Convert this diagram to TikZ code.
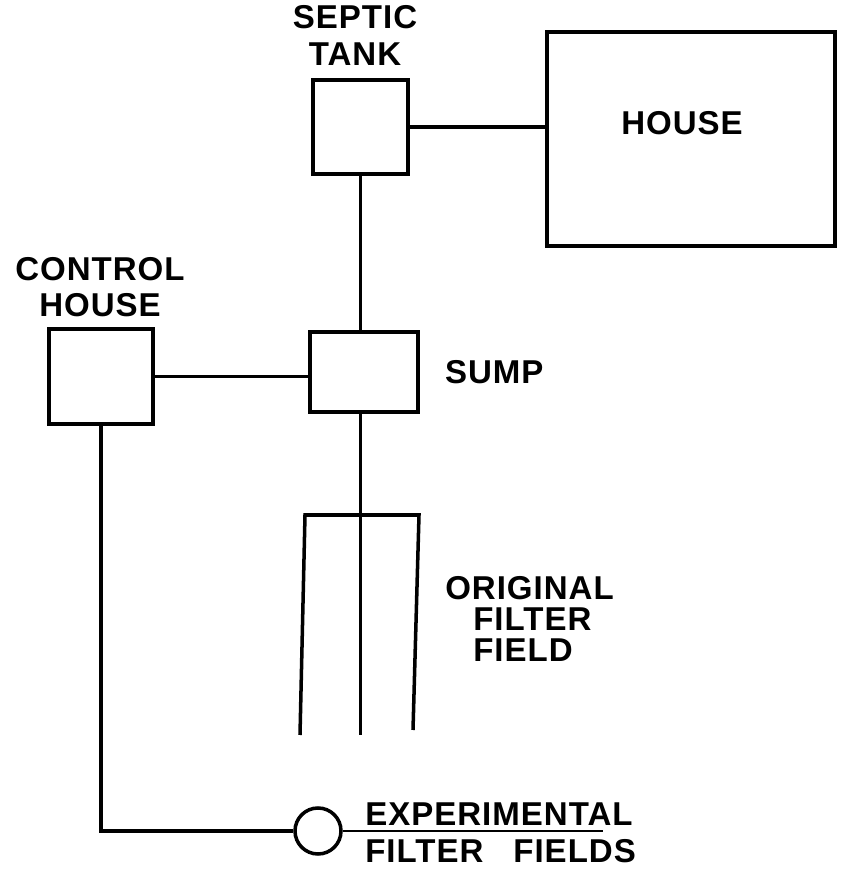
\documentclass[tikz,border=0pt]{standalone}
\usepackage{fontspec}
\usepackage{xcolor}
\usepackage{tikz}
\usetikzlibrary{positioning,calc}
\setmainfont{Liberation Sans}
\newfontfamily\labelfont[LetterSpace=3]{Liberation Sans}
\tikzset{
  tank/.style={draw, line width=2.5pt, inner sep=0pt},
  pipe/.style={line width=2.5pt},
  lbl/.style={font=\labelfont\bfseries\fontsize{23.5}{26}\selectfont, align=center, inner sep=0pt},
}

\begin{document}
\begin{tikzpicture}
    \useasboundingbox (0,0) rectangle (21.025,21.875);
    % boxes
    \node[tank, minimum width=2.375cm, minimum height=2.35cm] (septic) at (9.01,18.70) {};
    \node[tank, minimum width=7.2cm, minimum height=5.35cm] (house) at (17.275,18.40) {};
    \node[tank, minimum width=2.7cm, minimum height=2cm] (sump) at (9.10,12.575) {};
    \node[tank, minimum width=2.6cm, minimum height=2.375cm] (ctrl) at (2.525,12.4625) {};
    \node[tank, circle, minimum size=1.15cm] (expt) at (7.95,1.10) {};
    \coordinate (fieldbot) at (9.01,3.5);
    \coordinate (ruleend) at (15.075,1.10);
    % labels
    \node[lbl] (septiclbl) at (8.875,20.99) {SEPTIC\\TANK};
    \node[lbl] (houselbl) at (17.05,18.80) {HOUSE};
    \node[lbl] (ctrllbl) at (2.5,14.70) {CONTROL\\HOUSE};
    \node[lbl, right=0.625cm of sump] (sumplbl) {SUMP};
    \node[lbl, align=left, anchor=west] (fieldlbl) at (11.125,6.41)
      {ORIGINAL\\[-4pt]\hspace*{0.7cm}FILTER\\[-4pt]\hspace*{0.7cm}FIELD};
    \node[lbl, anchor=base west] (exptlbl) at (9.125,1.25) {EXPERIMENTAL};
    \node[lbl, anchor=base west] (exptlbl2) at (9.125,0.30) {FILTER\hspace{0.75cm}FIELDS};
    % pipes
    \draw[pipe] (septic.east) -- (septic.east -| house.west);
    \draw[pipe] (septic.south) -- (septic.south |- sump.north);
    \draw[pipe] (ctrl.east) -- (ctrl.east -| sump.west);
    \draw[pipe] (septic.south |- sump.south) -- (fieldbot);
    \draw[pipe] (7.5,3.5) -- (7.625,9.0) -- (10.475,9.0) -- (10.325,3.625);
    \draw[pipe] (ctrl.south) |- (expt.west);
    \draw[line width=1.5pt] (expt.east) -- (ruleend);
  \end{tikzpicture}
\end{document}
